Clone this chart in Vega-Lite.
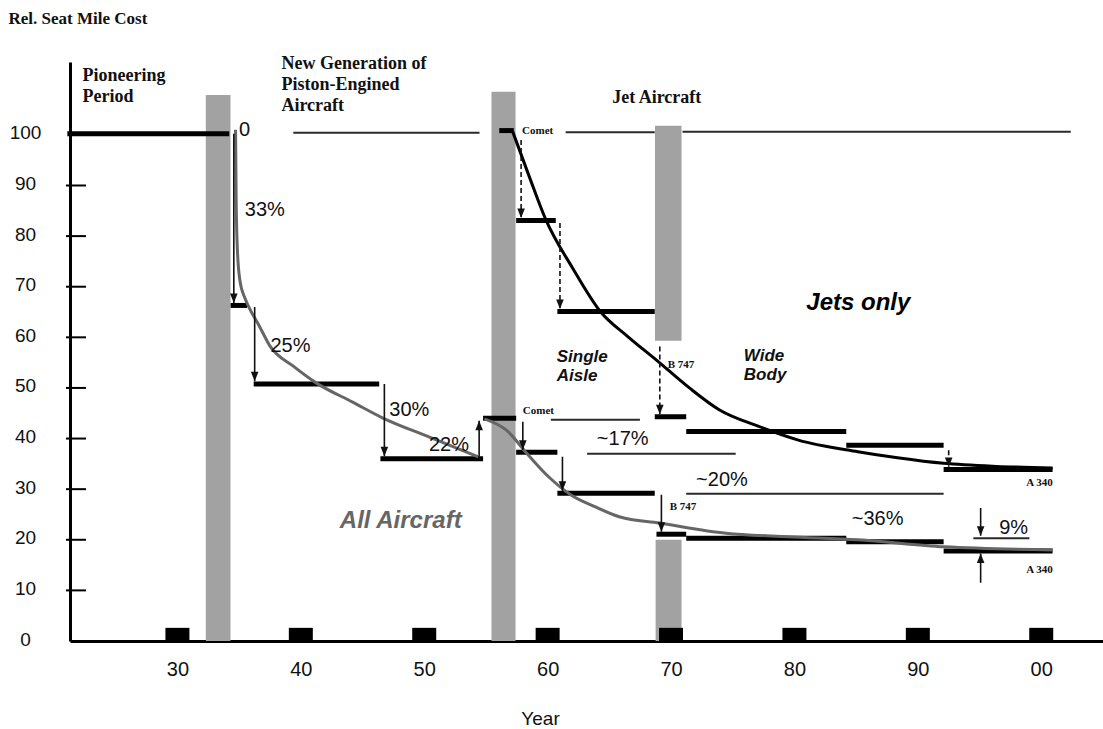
{
  "$schema": "https://vega.github.io/schema/vega-lite/v6.json",
  "width": 1033,
  "height": 579,
  "autosize": "none",
  "padding": {"left": 70, "top": 62, "right": 0, "bottom": 88},
  "background": "white",
  "config": {"view": {"stroke": null}, "axis": {"grid": false}},
  "datasets": {
    "periods": [
      {"start": 1932.3, "end": 1934.3, "low": 0, "high": 107.9},
      {"start": 1955.45, "end": 1957.4, "low": 0, "high": 108.5},
      {"start": 1968.7, "end": 1970.85, "low": 59.3, "high": 101.8},
      {"start": 1968.75, "end": 1970.85, "low": 0, "high": 20.0}
    ],
    "decades": [
      {"year": 1930}, {"year": 1940}, {"year": 1950}, {"year": 1960},
      {"year": 1970}, {"year": 1980}, {"year": 1990}, {"year": 2000}
    ],
    "levels": [
      {"v": 10}, {"v": 20}, {"v": 30}, {"v": 40}, {"v": 50},
      {"v": 60}, {"v": 70}, {"v": 80}, {"v": 90}
    ],
    "guides": [
      {"from": 1939.39, "to": 1954.48, "level": 100.4},
      {"from": 1961.46, "to": 1968.68, "level": 100.5},
      {"from": 1970.93, "to": 2002.39, "level": 100.6},
      {"from": 1960.26, "to": 1967.48, "level": 43.7},
      {"from": 1963.2, "to": 1975.24, "level": 37.0},
      {"from": 1971.23, "to": 1992.09, "level": 29.1},
      {"from": 1994.5, "to": 1999.04, "level": 20.3}
    ],
    "steps": [
      {"series": "All Aircraft", "from": 1921.08, "to": 1934.2, "level": 100.2},
      {"series": "All Aircraft", "from": 1934.31, "to": 1935.64, "level": 66.3},
      {"series": "All Aircraft", "from": 1936.18, "to": 1946.35, "level": 50.8},
      {"series": "All Aircraft", "from": 1946.45, "to": 1954.77, "level": 36.0},
      {"series": "All Aircraft", "from": 1954.77, "to": 1957.45, "level": 44.0},
      {"series": "All Aircraft", "from": 1957.45, "to": 1960.79, "level": 37.3},
      {"series": "All Aircraft", "from": 1960.79, "to": 1968.68, "level": 29.2},
      {"series": "All Aircraft", "from": 1968.82, "to": 1971.23, "level": 21.1},
      {"series": "All Aircraft", "from": 1971.23, "to": 1984.2, "level": 20.3},
      {"series": "All Aircraft", "from": 1984.2, "to": 1992.09, "level": 19.6},
      {"series": "All Aircraft", "from": 1992.09, "to": 2000.92, "level": 17.8},
      {"series": "Jets", "from": 1956.08, "to": 1957.26, "level": 100.85},
      {"series": "Jets", "from": 1957.45, "to": 1960.66, "level": 83.1},
      {"series": "Jets", "from": 1960.79, "to": 1968.68, "level": 65.1},
      {"series": "Jets", "from": 1968.68, "to": 1971.23, "level": 44.3},
      {"series": "Jets", "from": 1971.23, "to": 1984.2, "level": 41.4},
      {"series": "Jets", "from": 1984.2, "to": 1992.09, "level": 38.7},
      {"series": "Jets", "from": 1992.09, "to": 2000.92, "level": 33.9}
    ],
    "trend": [
      {"series": "All Aircraft", "era": "piston", "year": 1934.71, "v": 101.0},
      {"series": "All Aircraft", "era": "piston", "year": 1934.76, "v": 87.2},
      {"series": "All Aircraft", "era": "piston", "year": 1934.86, "v": 77.3},
      {"series": "All Aircraft", "era": "piston", "year": 1935.06, "v": 71.3},
      {"series": "All Aircraft", "era": "piston", "year": 1935.46, "v": 67.8},
      {"series": "All Aircraft", "era": "piston", "year": 1935.78, "v": 66.0},
      {"series": "All Aircraft", "era": "piston", "year": 1936.58, "v": 62.5},
      {"series": "All Aircraft", "era": "piston", "year": 1937.52, "v": 58.2},
      {"series": "All Aircraft", "era": "piston", "year": 1939.39, "v": 54.3},
      {"series": "All Aircraft", "era": "piston", "year": 1941.24, "v": 51.0},
      {"series": "All Aircraft", "era": "piston", "year": 1944.2, "v": 47.2},
      {"series": "All Aircraft", "era": "piston", "year": 1946.61, "v": 44.1},
      {"series": "All Aircraft", "era": "piston", "year": 1950.63, "v": 40.1},
      {"series": "All Aircraft", "era": "piston", "year": 1954.37, "v": 36.4},
      {"series": "All Aircraft", "era": "jet", "year": 1954.88, "v": 43.9},
      {"series": "All Aircraft", "era": "jet", "year": 1956.64, "v": 41.7},
      {"series": "All Aircraft", "era": "jet", "year": 1958.41, "v": 36.8},
      {"series": "All Aircraft", "era": "jet", "year": 1960.1, "v": 32.4},
      {"series": "All Aircraft", "era": "jet", "year": 1961.86, "v": 28.9},
      {"series": "All Aircraft", "era": "jet", "year": 1963.87, "v": 26.5},
      {"series": "All Aircraft", "era": "jet", "year": 1965.87, "v": 24.5},
      {"series": "All Aircraft", "era": "jet", "year": 1969.08, "v": 23.3},
      {"series": "All Aircraft", "era": "jet", "year": 1974.46, "v": 21.3},
      {"series": "All Aircraft", "era": "jet", "year": 1979.52, "v": 20.6},
      {"series": "All Aircraft", "era": "jet", "year": 1985.14, "v": 20.0},
      {"series": "All Aircraft", "era": "jet", "year": 1992.12, "v": 18.6},
      {"series": "All Aircraft", "era": "jet", "year": 2000.95, "v": 18.0},
      {"series": "Jets", "era": "jet", "year": 1957.17, "v": 100.65},
      {"series": "Jets", "era": "jet", "year": 1958.49, "v": 91.9},
      {"series": "Jets", "era": "jet", "year": 1959.86, "v": 83.2},
      {"series": "Jets", "era": "jet", "year": 1962.02, "v": 73.7},
      {"series": "Jets", "era": "jet", "year": 1964.27, "v": 65.1},
      {"series": "Jets", "era": "jet", "year": 1966.52, "v": 60.1},
      {"series": "Jets", "era": "jet", "year": 1968.82, "v": 55.5},
      {"series": "Jets", "era": "jet", "year": 1971.49, "v": 50.0},
      {"series": "Jets", "era": "jet", "year": 1973.9, "v": 45.7},
      {"series": "Jets", "era": "jet", "year": 1977.11, "v": 42.4},
      {"series": "Jets", "era": "jet", "year": 1980.32, "v": 39.7},
      {"series": "Jets", "era": "jet", "year": 1985.14, "v": 37.4},
      {"series": "Jets", "era": "jet", "year": 1988.35, "v": 36.2},
      {"series": "Jets", "era": "jet", "year": 1992.09, "v": 35.1},
      {"series": "Jets", "era": "jet", "year": 1996.37, "v": 34.5},
      {"series": "Jets", "era": "jet", "year": 2000.92, "v": 34.2}
    ],
    "arrows": [
      {"series": "All Aircraft", "year": 1934.57, "from": 100.2, "to": 66.8},
      {"series": "All Aircraft", "year": 1936.26, "from": 66.0, "to": 51.3},
      {"series": "All Aircraft", "year": 1946.77, "from": 50.8, "to": 36.5},
      {"series": "All Aircraft", "year": 1954.45, "from": 36.0, "to": 43.5},
      {"series": "All Aircraft", "year": 1957.99, "from": 43.3, "to": 37.8},
      {"series": "All Aircraft", "year": 1961.2, "from": 36.4, "to": 29.7},
      {"series": "All Aircraft", "year": 1969.22, "from": 28.9, "to": 21.6},
      {"series": "All Aircraft", "year": 1995.09, "from": 26.3, "to": 20.8},
      {"series": "All Aircraft", "year": 1995.09, "from": 11.5, "to": 17.3},
      {"series": "Jets", "year": 1957.85, "from": 99.0, "to": 83.6},
      {"series": "Jets", "year": 1961.0, "from": 82.6, "to": 65.6},
      {"series": "Jets", "year": 1969.09, "from": 58.2, "to": 44.8},
      {"series": "Jets", "year": 1992.5, "from": 37.7, "to": 34.4}
    ],
    "notes": [
      {"kind": "era", "label": "Pioneering\nPeriod", "year": 1922.3, "v": 113.4},
      {"kind": "era", "label": "New Generation of\nPiston-Engined\nAircraft", "year": 1938.43, "v": 115.8},
      {"kind": "era", "label": "Jet Aircraft", "year": 1965.23, "v": 109.1},
      {"kind": "type", "label": "Comet", "year": 1957.93, "v": 100.8},
      {"kind": "type", "label": "Comet", "year": 1957.99, "v": 45.5},
      {"kind": "type", "label": "B 747", "year": 1969.73, "v": 54.5},
      {"kind": "type", "label": "B 747", "year": 1969.89, "v": 26.5},
      {"kind": "type", "label": "A 340", "year": 1998.78, "v": 31.2},
      {"kind": "type", "label": "A 340", "year": 1998.78, "v": 14.0},
      {"kind": "pct", "label": "0", "year": 1934.98, "v": 101.0},
      {"kind": "pct", "label": "33%", "year": 1935.46, "v": 85.1},
      {"kind": "pct", "label": "25%", "year": 1937.54, "v": 58.2},
      {"kind": "pct", "label": "30%", "year": 1947.17, "v": 45.6},
      {"kind": "pct", "label": "22%", "year": 1950.38, "v": 38.8},
      {"kind": "pct", "label": "~17%", "year": 1963.99, "v": 39.9},
      {"kind": "pct", "label": "~20%", "year": 1972.03, "v": 31.8},
      {"kind": "pct", "label": "~36%", "year": 1984.65, "v": 24.1},
      {"kind": "pct", "label": "9%", "year": 1996.59, "v": 22.4},
      {"kind": "body", "label": "Single\nAisle", "year": 1960.74, "v": 57.7},
      {"kind": "body", "label": "Wide\nBody", "year": 1975.9, "v": 57.9}
    ],
    "groups": [
      {"series": "Jets", "label": "Jets only", "year": 1980.96, "v": 66.8},
      {"series": "All Aircraft", "label": "All Aircraft", "year": 1943.16, "v": 23.7}
    ]
  },
  "layer": [
    {
      "data": {"name": "periods"},
      "mark": {"type": "rect", "color": "#a2a2a2"},
      "encoding": {
        "x": {
          "field": "start", "type": "quantitative",
          "scale": {"domain": [1921.7, 2004.6], "nice": false, "zero": false},
          "axis": {
            "title": "Year",
            "values": [1930, 1940, 1950, 1960, 1970, 1980, 1990, 2000],
            "labelExpr": "slice('0' + (datum.value % 100), -2)",
            "ticks": false,
            "domainColor": "#000000", "domainWidth": 3,
            "labelFont": "Liberation Sans", "labelFontSize": 20,
            "labelColor": "#111111", "labelPadding": 18,
            "titleFont": "Liberation Sans", "titleFontSize": 19,
            "titleFontWeight": "normal", "titleColor": "#111111",
            "titleX": 470, "titleY": 77, "titleBaseline": "middle"
          }
        },
        "x2": {"field": "end"},
        "y": {
          "field": "low", "type": "quantitative",
          "scale": {"domain": [0, 114.4], "nice": false, "zero": false},
          "axis": {
            "title": "Rel. Seat Mile Cost",
            "values": [0, 10, 20, 30, 40, 50, 60, 70, 80, 90, 100],
            "ticks": false,
            "domainColor": "#000000", "domainWidth": 3,
            "labelFont": "Liberation Sans", "labelFontSize": 19,
            "labelColor": "#111111", "labelPadding": 45,
            "labelAlign": "center", "labelOffset": -2,
            "titleAngle": 0, "titleAlign": "left", "titleBaseline": "middle",
            "titleX": -62, "titleY": -44,
            "titleFont": "Liberation Serif", "titleFontSize": 17,
            "titleFontWeight": "bold", "titleColor": "#111111"
          }
        },
        "y2": {"field": "high"}
      }
    },
    {
      "data": {"name": "decades"},
      "mark": {"type": "bar", "orient": "vertical", "width": 24, "color": "#000000"},
      "encoding": {
        "x": {"field": "year", "type": "quantitative", "scale": {"domain": [1921.7, 2004.6], "nice": false, "zero": false}},
        "y": {"datum": 2.6, "type": "quantitative", "scale": {"domain": [0, 114.4], "nice": false, "zero": false}},
        "y2": {"datum": 0}
      }
    },
    {
      "data": {"name": "levels"},
      "mark": {"type": "tick", "orient": "horizontal", "size": 20, "thickness": 2, "color": "#000000", "opacity": 1},
      "encoding": {
        "x": {"datum": 1921.78, "type": "quantitative", "scale": {"domain": [1921.7, 2004.6], "nice": false, "zero": false}},
        "y": {"field": "v", "type": "quantitative", "scale": {"domain": [0, 114.4], "nice": false, "zero": false}}
      }
    },
    {
      "data": {"name": "guides"},
      "mark": {"type": "rule", "strokeWidth": 2, "color": "#2a2a2a"},
      "encoding": {
        "x": {"field": "from", "type": "quantitative", "scale": {"domain": [1921.7, 2004.6], "nice": false, "zero": false}},
        "x2": {"field": "to"},
        "y": {"field": "level", "type": "quantitative", "scale": {"domain": [0, 114.4], "nice": false, "zero": false}}
      }
    },
    {
      "data": {"name": "steps"},
      "mark": {"type": "rule", "strokeWidth": 5, "color": "#000000"},
      "encoding": {
        "x": {"field": "from", "type": "quantitative", "scale": {"domain": [1921.7, 2004.6], "nice": false, "zero": false}},
        "x2": {"field": "to"},
        "y": {"field": "level", "type": "quantitative", "scale": {"domain": [0, 114.4], "nice": false, "zero": false}}
      }
    },
    {
      "data": {"name": "trend"},
      "mark": {"type": "line", "strokeWidth": 3, "interpolate": "monotone"},
      "encoding": {
        "x": {"field": "year", "type": "quantitative", "scale": {"domain": [1921.7, 2004.6], "nice": false, "zero": false}},
        "y": {"field": "v", "type": "quantitative", "scale": {"domain": [0, 114.4], "nice": false, "zero": false}},
        "color": {"field": "series", "type": "nominal", "scale": {"domain": ["All Aircraft", "Jets"], "range": ["#666666", "#000000"]}, "legend": null},
        "detail": {"field": "era"}
      }
    },
    {
      "data": {"name": "arrows"},
      "mark": {"type": "rule", "strokeWidth": 1.6, "color": "#111111"},
      "encoding": {
        "x": {"field": "year", "type": "quantitative", "scale": {"domain": [1921.7, 2004.6], "nice": false, "zero": false}},
        "y": {"field": "from", "type": "quantitative", "scale": {"domain": [0, 114.4], "nice": false, "zero": false}},
        "y2": {"field": "to"},
        "strokeDash": {"condition": {"test": "datum.series === 'Jets'", "value": [5, 3]}, "value": [1, 0]}
      }
    },
    {
      "data": {"name": "arrows"},
      "mark": {"type": "point", "filled": true, "size": 90, "color": "#111111", "opacity": 1},
      "encoding": {
        "x": {"field": "year", "type": "quantitative", "scale": {"domain": [1921.7, 2004.6], "nice": false, "zero": false}},
        "y": {"field": "to", "type": "quantitative", "scale": {"domain": [0, 114.4], "nice": false, "zero": false}},
        "shape": {"condition": {"test": "datum.to < datum.from", "value": "M-0.8,-2L0.8,-2L0,0Z"}, "value": "M-0.8,2L0.8,2L0,0Z"}
      }
    },
    {
      "data": {"name": "notes"},
      "transform": [{"filter": "datum.kind === 'era'"}],
      "mark": {"type": "text", "align": "left", "baseline": "top", "lineBreak": "\n", "lineHeight": 21, "font": "Liberation Serif", "fontWeight": "bold", "fontSize": 18, "color": "#111111"},
      "encoding": {
        "x": {"field": "year", "type": "quantitative", "scale": {"domain": [1921.7, 2004.6], "nice": false, "zero": false}},
        "y": {"field": "v", "type": "quantitative", "scale": {"domain": [0, 114.4], "nice": false, "zero": false}},
        "text": {"field": "label"}
      }
    },
    {
      "data": {"name": "notes"},
      "transform": [{"filter": "datum.kind === 'type'"}],
      "mark": {"type": "text", "align": "left", "baseline": "middle", "font": "Liberation Serif", "fontWeight": "bold", "fontSize": 11, "color": "#111111"},
      "encoding": {
        "x": {"field": "year", "type": "quantitative", "scale": {"domain": [1921.7, 2004.6], "nice": false, "zero": false}},
        "y": {"field": "v", "type": "quantitative", "scale": {"domain": [0, 114.4], "nice": false, "zero": false}},
        "text": {"field": "label"}
      }
    },
    {
      "data": {"name": "notes"},
      "transform": [{"filter": "datum.kind === 'pct'"}],
      "mark": {"type": "text", "align": "left", "baseline": "middle", "font": "Liberation Sans", "fontSize": 20, "color": "#111111"},
      "encoding": {
        "x": {"field": "year", "type": "quantitative", "scale": {"domain": [1921.7, 2004.6], "nice": false, "zero": false}},
        "y": {"field": "v", "type": "quantitative", "scale": {"domain": [0, 114.4], "nice": false, "zero": false}},
        "text": {"field": "label"}
      }
    },
    {
      "data": {"name": "notes"},
      "transform": [{"filter": "datum.kind === 'body'"}],
      "mark": {"type": "text", "align": "left", "baseline": "top", "lineBreak": "\n", "lineHeight": 19, "font": "Liberation Sans", "fontWeight": "bold", "fontStyle": "italic", "fontSize": 17, "color": "#111111"},
      "encoding": {
        "x": {"field": "year", "type": "quantitative", "scale": {"domain": [1921.7, 2004.6], "nice": false, "zero": false}},
        "y": {"field": "v", "type": "quantitative", "scale": {"domain": [0, 114.4], "nice": false, "zero": false}},
        "text": {"field": "label"}
      }
    },
    {
      "data": {"name": "groups"},
      "mark": {"type": "text", "align": "left", "baseline": "middle", "font": "Liberation Sans", "fontWeight": "bold", "fontStyle": "italic", "fontSize": 24},
      "encoding": {
        "x": {"field": "year", "type": "quantitative", "scale": {"domain": [1921.7, 2004.6], "nice": false, "zero": false}},
        "y": {"field": "v", "type": "quantitative", "scale": {"domain": [0, 114.4], "nice": false, "zero": false}},
        "text": {"field": "label"},
        "color": {"field": "series", "type": "nominal", "scale": {"domain": ["All Aircraft", "Jets"], "range": ["#666666", "#000000"]}, "legend": null}
      }
    }
  ]
}
